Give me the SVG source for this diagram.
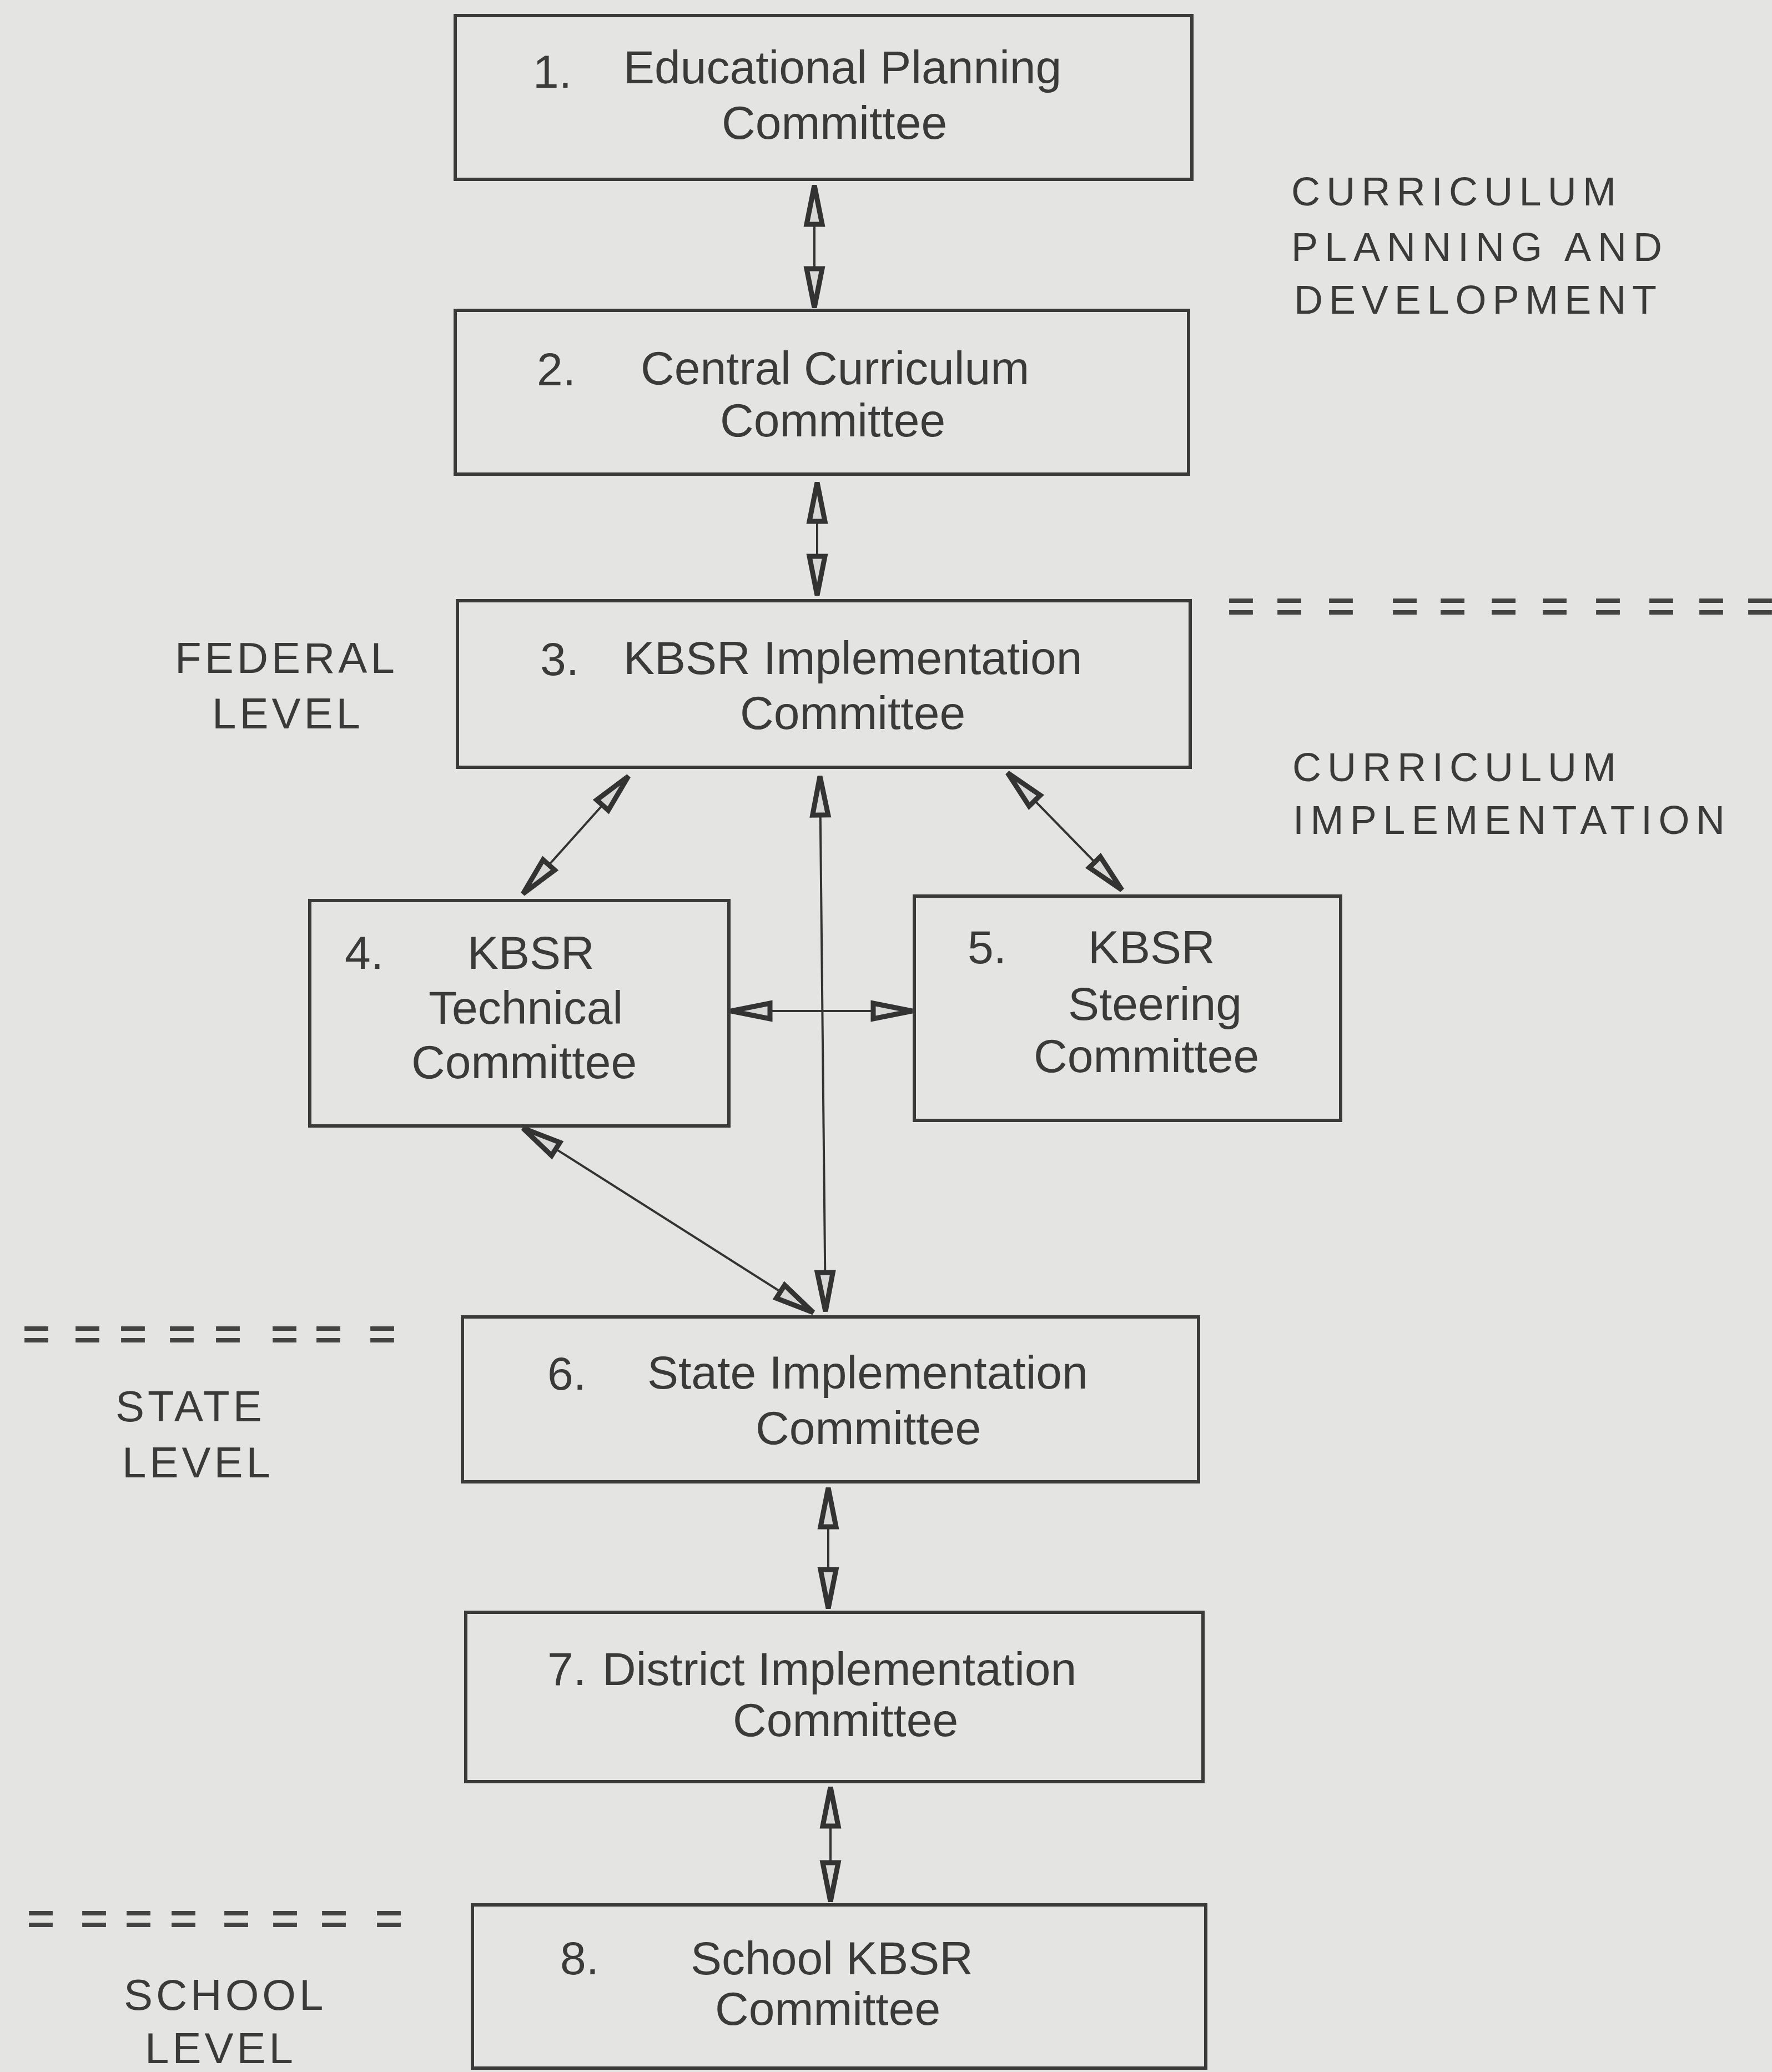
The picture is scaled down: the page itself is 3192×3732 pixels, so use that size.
<svg xmlns="http://www.w3.org/2000/svg" width="3192" height="3732" viewBox="0 0 3192 3732">
<style>
.box{fill:none;stroke:#3a3a3a;stroke-width:6}
.t{font-family:"Liberation Sans",Arial,sans-serif;font-size:84px;fill:#3a3a3a}
.lbl{font-family:"Liberation Sans",Arial,sans-serif;font-size:78px;fill:#3a3a3a;letter-spacing:6px}
.rl{font-family:"Liberation Sans",Arial,sans-serif;font-size:72px;fill:#3a3a3a}
.eq{font-family:"Liberation Sans",Arial,sans-serif;font-size:84px;fill:#444;stroke:#444;stroke-width:2}
.c{fill:none;stroke:#333;stroke-width:4;marker-start:url(#ah);marker-end:url(#ah)}
</style>
<defs>
<marker id="ah" markerUnits="userSpaceOnUse" orient="auto-start-reverse" refX="0" refY="0" markerWidth="100" markerHeight="40" overflow="visible">
<path d="M0,0 L-70,-14 L-70,14 Z" fill="#d8d8d6" stroke="#333" stroke-width="9" stroke-linejoin="miter"/>
</marker>
</defs>
<rect x="0" y="0" width="3192" height="3732" fill="#e4e4e2"/>

<g id="connectors">
<line class="c" x1="1467" y1="334" x2="1467" y2="554"/>
<line class="c" x1="1472" y1="869" x2="1472" y2="1072"/>
<line class="c" x1="1132" y1="1398" x2="942" y2="1610"/>
<line class="c" x1="1815" y1="1392" x2="2021" y2="1603"/>
<line class="c" x1="1477" y1="1398" x2="1487" y2="2362"/>
<line class="c" x1="1317" y1="1821" x2="1643" y2="1821"/>
<line class="c" x1="942" y1="2032" x2="1465" y2="2364"/>
<line class="c" x1="1492" y1="2680" x2="1492" y2="2897"/>
<line class="c" x1="1496" y1="3219" x2="1496" y2="3425"/>
</g>

<g id="node1">
<rect class="box" x="820" y="28" width="1327" height="295"/>
<text class="t" x="960" y="158">1.</text>
<text class="t" x="1123" y="150">Educational Planning</text>
<text class="t" x="1300" y="250">Committee</text>
</g>
<g id="node2">
<rect class="box" x="820" y="559" width="1321" height="295"/>
<text class="t" x="967" y="694">2.</text>
<text class="t" x="1154" y="692">Central Curriculum</text>
<text class="t" x="1297" y="786">Committee</text>
</g>
<g id="node3">
<rect class="box" x="824" y="1082" width="1320" height="300"/>
<text class="t" x="973" y="1216">3.</text>
<text class="t" x="1123" y="1214">KBSR Implementation</text>
<text class="t" x="1333" y="1313">Committee</text>
</g>
<g id="node4">
<rect class="box" x="558" y="1622" width="755" height="406"/>
<text class="t" x="621" y="1745">4.</text>
<text class="t" x="842" y="1745">KBSR</text>
<text class="t" x="772" y="1844">Technical</text>
<text class="t" x="741" y="1942">Committee</text>
</g>
<g id="node5">
<rect class="box" x="1647" y="1614" width="768" height="404"/>
<text class="t" x="1743" y="1735">5.</text>
<text class="t" x="1960" y="1735">KBSR</text>
<text class="t" x="1924" y="1837">Steering</text>
<text class="t" x="1862" y="1931">Committee</text>
</g>
<g id="node6">
<rect class="box" x="833" y="2372" width="1326" height="297"/>
<text class="t" x="986" y="2503">6.</text>
<text class="t" x="1166" y="2501">State Implementation</text>
<text class="t" x="1361" y="2601">Committee</text>
</g>
<g id="node7">
<rect class="box" x="839" y="2904" width="1328" height="305"/>
<text class="t" x="986" y="3035">7.</text>
<text class="t" x="1085" y="3035">District Implementation</text>
<text class="t" x="1320" y="3127">Committee</text>
</g>
<g id="node8">
<rect class="box" x="851" y="3431" width="1321" height="294"/>
<text class="t" x="1009" y="3556">8.</text>
<text class="t" x="1244" y="3556">School KBSR</text>
<text class="t" x="1288" y="3647">Committee</text>
</g>

<g id="labels">
<text class="lbl" x="315" y="1212">FEDERAL</text>
<text class="lbl" x="382" y="1312">LEVEL</text>
<text class="lbl" x="208" y="2560">STATE</text>
<text class="lbl" x="220" y="2661">LEVEL</text>
<text class="lbl" x="223" y="3620">SCHOOL</text>
<text class="lbl" x="261" y="3716">LEVEL</text>
<text class="rl" x="2326" y="370" textLength="585" lengthAdjust="spacing">CURRICULUM</text>
<text class="rl" x="2326" y="470" textLength="668" lengthAdjust="spacing">PLANNING AND</text>
<text class="rl" x="2331" y="565" textLength="653" lengthAdjust="spacing">DEVELOPMENT</text>
<text class="rl" x="2328" y="1407" textLength="583" lengthAdjust="spacing">CURRICULUM</text>
<text class="rl" x="2329" y="1502" textLength="778" lengthAdjust="spacing">IMPLEMENTATION</text>
</g>

<g id="dividers">
<text class="eq" x="2211 2298 2391 2506 2592 2684 2776 2872 2968 3058 3146" y="1120">===========</text>
<text class="eq" x="41 133 215 303 386 488 567 664" y="2431">========</text>
<text class="eq" x="49 145 225 306 401 489 577 676" y="3484">========</text>
</g>
</svg>
